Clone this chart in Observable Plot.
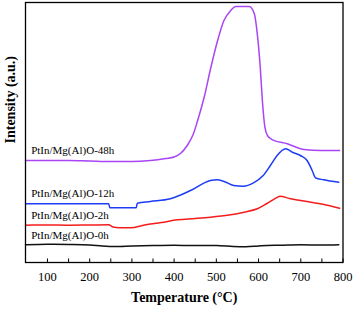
<!DOCTYPE html>
<html>
<head>
<meta charset="utf-8">
<script src="https://cdn.jsdelivr.net/npm/d3@7"></script>
<script src="https://cdn.jsdelivr.net/npm/@observablehq/plot@0.6"></script>
<style>
  html, body { margin: 0; padding: 0; background: #fff; }
  svg text { font-family: "Liberation Serif", "Times New Roman", serif; }
</style>
</head>
<body>
<div id="chart"></div>
<script>
// Temperature (°C) and intensity (a.u.)
const t0h = [48,100,150,200,230,260,300,350,400,450,500,540,570,600,620,650,700,750,790];
const v0h = [17.7,18.2,18,17.5,16.5,16,16.5,17,17.2,17,17,16,15.7,16.5,17,17.2,17.7,17.5,17.8];

const t2h = [48,100,150,200,245,255,270,297,330,370,408,450,486,530,566,597,620,645,650,676,700,723,760,792];
const v2h = [37.3,37.5,37.3,37.5,37.7,35.5,34.7,34.7,37.5,40,42.7,44,45.3,47.5,50.3,53.7,59,65.3,66.3,63.7,62,60.3,57.5,54.3];

const t12h = [48,100,150,200,245,248,280,310,313,344,391,439,486,502,517,541,564,588,611,628,644,664,680,699,715,727,735,754,790];
const v12h = [58.7,58.7,58.7,58.7,58.7,54.7,54.7,54.7,59.3,61,63.7,72,82,82.7,81.3,77,76.3,79.7,87,97,107,113.7,110.3,107,102,92,84.7,82.7,80.3];

const t48h = [48,100,150,200,250,300,344,380,400,415,431,446,455,462,471,487,503,518,534,546,578,590,597,604,609,615,621,633,668,708,747,792];
const v48h = [102,102,102,101.5,101,101,102,104,105.5,109,117,129,141,151,165,195,222,242,252,256,256,248.7,228.7,195.3,162,135.3,127,122.7,118.7,113,112,112];

const seriesNames = ["PtIn/Mg(Al)O-0h","PtIn/Mg(Al)O-2h","PtIn/Mg(Al)O-12h","PtIn/Mg(Al)O-48h"];
const seriesColors = ["#111111","#f51c1c","#1c3cf5","#aa45f5"];
const labelX = [61.5, 61.5, 61.5, 61.5];
const labelY = [27, 47, 69.3, 112];

const xTickLabels = [100,200,300,400,500,600,700,800];
const xMinorTicks = d3.range(100, 801, 50);

const temps = [t0h, t2h, t12h, t48h];
const vals = [v0h, v2h, v12h, v48h];
const rows = [];
seriesNames.forEach((name, i) => {
  temps[i].forEach((t, j) => rows.push({series: name, T: t, I: vals[i][j]}));
});
const labels = seriesNames.map((name, i) => ({series: name, x: labelX[i], y: labelY[i]}));

const chart = Plot.plot({
  width: 354,
  height: 309,
  marginLeft: 25,
  marginRight: 11.5,
  marginTop: 2,
  marginBottom: 47,
  style: {fontFamily: "'Liberation Serif', 'Times New Roman', serif", background: "#fff", color: "#000"},
  x: {domain: [48, 800]},
  y: {domain: [0, 260], axis: null},
  color: {domain: seriesNames, range: seriesColors},
  marks: [
    Plot.line(rows, {x: "T", y: "I", z: "series", stroke: "series", strokeWidth: 1.5, curve: "monotone-x"}),
    Plot.text(labels, {x: "x", y: "y", text: "series", textAnchor: "start", fontSize: 11, fill: "#000"}),
    Plot.ruleX(xMinorTicks, {x: d => d, y1: 0, y2: 3.5, stroke: "#000", strokeWidth: 1}),
    Plot.axisX(xTickLabels, {tickSize: 0, tickPadding: 10, fontSize: 12.5, label: null}),
    Plot.frame({stroke: "#000", strokeWidth: 1.3}),
    Plot.text(["Temperature (°C)"], {frameAnchor: "bottom", dy: 39, fontSize: 14, fontWeight: "bold", fill: "#000"}),
    Plot.text(["Intensity (a.u.)"], {frameAnchor: "left", dx: -15, dy: 11, rotate: -90, fontSize: 14, fontWeight: "bold", fill: "#000"})
  ]
});
document.getElementById("chart").appendChild(chart);
</script>
</body>
</html>
